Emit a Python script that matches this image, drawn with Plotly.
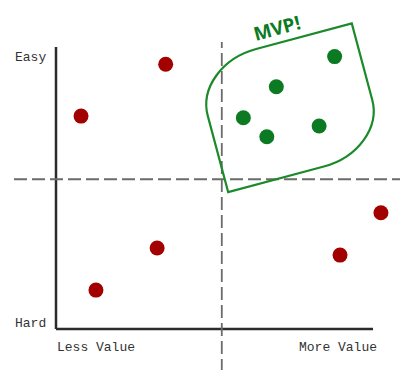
import math
import plotly.graph_objects as go

# ---------------- data (value = x, ease = y, both 0..10) ----------------
red_x = [0.79, 3.46, 3.19, 1.26, 10.25, 8.96]
red_y = [7.55, 9.39, 2.87, 1.38, 4.12, 2.62]
green_x = [8.79, 6.95, 5.91, 6.65, 8.30]
green_y = [9.66, 8.59, 7.49, 6.82, 7.20]
split_x = 5.23
split_y = 5.31
axis_labels = ["Easy", "Hard", "Less Value", "More Value"]

# ---------------- layout helpers ----------------
W, H = 414, 370
OFF = 8                 # page offset of the figure (body margin)
X0PX, XS = 56.0, 31.7   # page pixel of x=0, px per unit
Y0PX, YS = 329.0, 28.2  # page pixel of y=0, px per unit


def dx(px):
    return (px - X0PX) / XS


def dy(py):
    return (Y0PX - py) / YS


xr = [dx(OFF), dx(OFF + W)]
yr = [dy(OFF + H), dy(OFF)]

RED = "#a30000"
GREEN = "#0b7a22"
STROKE = "#1c8a2a"
AX = "#2b2b2b"
DASH = "#6b6b6b"
FONT = "Courier New, Liberation Mono, monospace"

fig = go.Figure()
fig.add_trace(go.Scatter(x=red_x, y=red_y, mode="markers",
                         marker=dict(size=15, color=RED), hoverinfo="skip"))
fig.add_trace(go.Scatter(x=green_x, y=green_y, mode="markers",
                         marker=dict(size=15, color=GREEN), hoverinfo="skip"))

shapes = []
# main axes
shapes.append(dict(type="line", x0=0, y0=0, x1=0, y1=10, line=dict(color=AX, width=2.5)))
shapes.append(dict(type="line", x0=0, y0=0, x1=10, y1=0, line=dict(color=AX, width=2.5)))
# dashed split lines
shapes.append(dict(type="line", x0=split_x, y0=dy(372), x1=split_x, y1=dy(42),
                   line=dict(color=DASH, width=1.8, dash="13px,5px")))
shapes.append(dict(type="line", x0=dx(14), y0=split_y, x1=dx(400), y1=split_y,
                   line=dict(color=DASH, width=1.8, dash="13px,5px")))

# MVP region: rotated rectangle with two elliptical rounded corners
cx, cy, w, h, ang = 290.0, 107.8, 163.0, 131.0, math.radians(15)
u = (math.cos(ang), -math.sin(ang))
v = (math.sin(ang), math.cos(ang))


def P(base, a, vec):
    return (base[0] + a * vec[0], base[1] + a * vec[1])


C = (cx, cy)
TL = P(P(C, -w / 2, u), -h / 2, v)
TR = P(P(C, w / 2, u), -h / 2, v)
BR = P(P(C, w / 2, u), h / 2, v)
BL = P(P(C, -w / 2, u), h / 2, v)
rx, ry, k = 64.0, 52.0, 0.5523


def fmt(p):
    return f"{dx(p[0]):.4f},{dy(p[1]):.4f}"


path = (
    f"M {fmt(BL)} L {fmt(P(TL, ry, v))} "
    f"C {fmt(P(TL, ry * (1 - k), v))} {fmt(P(TL, rx * (1 - k), u))} {fmt(P(TL, rx, u))} "
    f"L {fmt(TR)} L {fmt(P(BR, -ry, v))} "
    f"C {fmt(P(BR, -ry * (1 - k), v))} {fmt(P(BR, -rx * (1 - k), u))} {fmt(P(BR, -rx, u))} Z"
)
shapes.append(dict(type="path", path=path, line=dict(color=STROKE, width=2.2),
                   fillcolor="rgba(0,0,0,0)"))

annotations = [
    dict(x=dx(13), y=dy(57), text=axis_labels[0], xanchor="left", yanchor="middle"),
    dict(x=dx(13), y=dy(323), text=axis_labels[1], xanchor="left", yanchor="middle"),
    dict(x=dx(55), y=dy(347), text=axis_labels[2], xanchor="left", yanchor="middle"),
    dict(x=dx(297), y=dy(347), text=axis_labels[3], xanchor="left", yanchor="middle"),
]
for a in annotations:
    a.update(showarrow=False, font=dict(family=FONT, size=13, color="#333333"))
annotations.append(dict(x=dx(277), y=dy(28), text="<b>MVP!</b>", showarrow=False,
                        textangle=-15, xanchor="center", yanchor="middle",
                        font=dict(family="Open Sans, DejaVu Sans, sans-serif", size=19,
                                  color=GREEN)))

fig.update_layout(
    width=W, height=H, margin=dict(l=0, r=0, t=0, b=0),
    paper_bgcolor="white", plot_bgcolor="white", showlegend=False,
    xaxis=dict(range=xr, visible=False, fixedrange=True),
    yaxis=dict(range=yr, visible=False, fixedrange=True),
    shapes=shapes, annotations=annotations,
)
fig.write_html("out.html")
